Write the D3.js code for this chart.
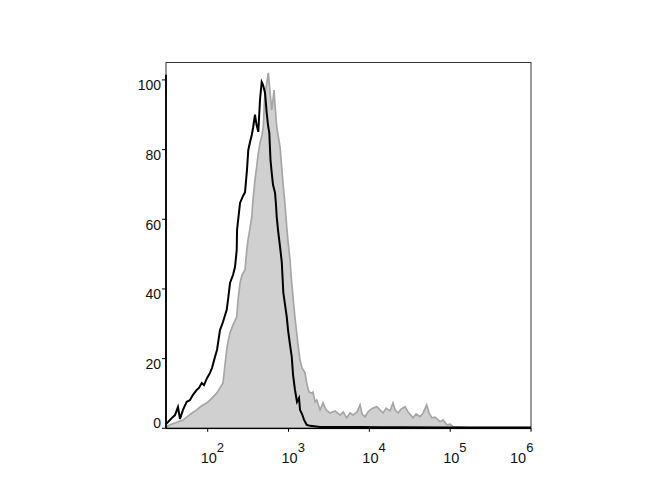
<!DOCTYPE html>
<html>
<head>
<meta charset="utf-8">
<script src="https://cdn.jsdelivr.net/npm/d3@7"></script>
<style>
  html, body { margin: 0; padding: 0; background: #fff; }
  svg { display: block; }
  text { font-family: "Liberation Sans", Arial, sans-serif; fill: #111; }
</style>
</head>
<body>
<svg id="chart" width="670" height="500"></svg>
<script>
// ---- data (x as log10 of fluorescence intensity, y as % of max) ----
const blackLogX = [1.484,1.521,1.558,1.595,1.632,1.657,1.694,1.740,1.781,1.818,1.864,1.892,1.926,1.954,1.991,2.028,2.053,2.090,2.115,2.152,2.189,2.235,2.251,2.276,2.313,2.338,2.359,2.363,2.400,2.437,2.462,2.486,2.502,2.524,2.545,2.561,2.585,2.604,2.626,2.647,2.668,2.684,2.709,2.722,2.730,2.746,2.762,2.777,2.792,2.808,2.833,2.845,2.854,2.870,2.895,2.916,2.936,2.957,2.978,2.994,3.019,3.040,3.056,3.080,3.105,3.130,3.142,3.167,3.192,3.225,3.266,3.390,3.637,3.885,4.132,4.380,4.999,6.0];
const blackCount = [1.2,2.1,3.0,3.8,6.1,2.7,5.3,7.6,8.1,9.6,11.0,11.6,13.0,12.4,14.4,15.9,17.3,20.5,22.5,28.2,30.5,34.0,36.8,41.7,44.0,46.3,51.2,56.9,64.7,66.7,67.8,74.2,79.9,82.2,84.2,86.2,90.0,87.1,85.1,94.3,99.4,98.6,96.3,92.8,90.5,87.1,84.8,77.0,73.3,69.9,67.6,64.1,60.7,56.9,52.1,47.8,38.9,35.4,32.0,28.2,23.9,20.5,15.3,11.0,7.6,8.7,5.3,4.1,2.4,1.0,0.7,0.4,0.4,0.4,0.3,0.3,0.2,0.2];

const greyLogX = [1.484,1.533,1.595,1.657,1.694,1.756,1.806,1.864,1.905,1.942,1.988,2.028,2.066,2.111,2.152,2.189,2.214,2.235,2.251,2.276,2.313,2.359,2.375,2.400,2.424,2.462,2.483,2.499,2.524,2.545,2.561,2.585,2.606,2.623,2.647,2.672,2.688,2.697,2.709,2.728,2.750,2.771,2.792,2.808,2.821,2.833,2.854,2.870,2.895,2.913,2.936,2.957,2.978,2.994,3.019,3.031,3.059,3.080,3.101,3.118,3.142,3.167,3.204,3.229,3.254,3.287,3.303,3.328,3.349,3.390,3.427,3.464,3.514,3.576,3.637,3.675,3.720,3.761,3.798,3.848,3.885,3.910,3.947,3.984,4.009,4.046,4.092,4.132,4.170,4.207,4.256,4.293,4.318,4.355,4.392,4.442,4.479,4.541,4.578,4.627,4.665,4.710,4.739,4.772,4.813,4.875,4.912,4.958,4.999,5.036,5.098,5.246,6.0];
const greyCount = [0.4,1.0,1.5,2.1,2.4,3.5,4.4,5.3,6.1,6.7,7.3,8.1,9.0,10.1,11.6,13.0,18.2,22.5,24.8,27.4,29.7,32.0,36.8,41.7,44.0,45.5,51.2,54.1,57.5,60.7,65.6,71.3,75.0,78.5,81.9,84.2,86.5,91.4,96.3,98.6,102.0,96.6,91.4,94.3,97.1,92.8,86.5,84.2,80.8,75.6,69.3,64.1,57.8,53.5,48.3,44.0,36.8,31.7,27.4,23.9,19.6,17.3,15.9,12.4,10.4,10.1,10.4,7.6,8.1,5.3,7.3,5.3,4.4,5.0,3.8,4.7,3.0,4.4,3.8,4.7,6.7,4.1,3.3,4.7,5.3,5.8,6.2,5.3,4.4,5.8,5.0,7.3,5.3,4.4,5.5,6.2,4.7,3.0,4.1,3.3,4.4,6.7,4.4,3.0,3.2,1.9,2.4,1.0,1.2,0.5,0.4,0.2,0.2];

const yTicks = [0, 20, 40, 60, 80, 100];
const xTickExps = [2, 3, 4, 5, 6];

// ---- scales ----
const svg = d3.select("#chart");
const plotLeft = 166, plotRight = 531, plotTop = 62.5, plotBottom = 428.3;

const x = d3.scaleLog().domain([Math.pow(10, 1.484), 1e6]).range([plotLeft, plotRight]);
const y = d3.scaleLinear().domain([0, 105]).range([plotBottom, plotTop]);

const grey = greyLogX.map((e, i) => ({ v: Math.pow(10, e), c: greyCount[i] }));
const black = blackLogX.map((e, i) => ({ v: Math.pow(10, e), c: blackCount[i] }));

// frame
svg.append("rect")
  .attr("x", plotLeft).attr("y", plotTop)
  .attr("width", plotRight - plotLeft).attr("height", plotBottom - plotTop)
  .attr("fill", "none").attr("stroke", "#333").attr("stroke-width", 1);

// grey filled histogram
svg.append("path")
  .datum(grey)
  .attr("fill", "#d0d0d0")
  .attr("stroke", "#a6a6a6")
  .attr("stroke-width", 1.7)
  .attr("stroke-linejoin", "miter")
  .attr("d", d3.area().x(d => x(d.v)).y0(y(0)).y1(d => y(d.c)));

// black line histogram
svg.append("path")
  .datum(black)
  .attr("fill", "none")
  .attr("stroke", "#000")
  .attr("stroke-width", 2)
  .attr("d", d3.line().x(d => x(d.v)).y(d => y(d.c)));

// y axis
const yAxis = svg.append("g").attr("transform", `translate(${plotLeft},0)`);
yAxis.append("line")
  .attr("x1", 0).attr("x2", 0)
  .attr("y1", y(0)).attr("y2", y(101.5))
  .attr("stroke", "#000").attr("stroke-width", 1.8);
yAxis.selectAll("line.tick").data(yTicks).enter().append("line")
  .attr("class", "tick")
  .attr("x1", -4).attr("x2", 0)
  .attr("y1", d => y(d)).attr("y2", d => y(d))
  .attr("stroke", "#000").attr("stroke-width", 1);
yAxis.selectAll("text").data(yTicks).enter().append("text")
  .attr("x", -5).attr("y", d => y(d) + (d === 0 ? 0 : 10.5))
  .attr("text-anchor", "end")
  .attr("font-size", 14)
  .text(d => d);

// x axis
const xAxis = svg.append("g").attr("transform", `translate(0,${plotBottom})`);
xAxis.append("line")
  .attr("x1", plotLeft).attr("x2", plotRight)
  .attr("y1", 0).attr("y2", 0)
  .attr("stroke", "#000").attr("stroke-width", 1.2);
xAxis.selectAll("line.tick").data(xTickExps).enter().append("line")
  .attr("class", "tick")
  .attr("x1", d => x(Math.pow(10, d))).attr("x2", d => x(Math.pow(10, d)))
  .attr("y1", 0).attr("y2", 3.5)
  .attr("stroke", "#000").attr("stroke-width", 1);
const xl = xAxis.selectAll("text").data(xTickExps).enter().append("text")
  .attr("x", d => x(Math.pow(10, d)) - (d === 6 ? 21 : 7))
  .attr("y", 35)
  .attr("font-size", 14.5);
xl.append("tspan").text("10");
xl.append("tspan").attr("dy", -11).attr("font-size", 13).text(d => d);
</script>
</body>
</html>
